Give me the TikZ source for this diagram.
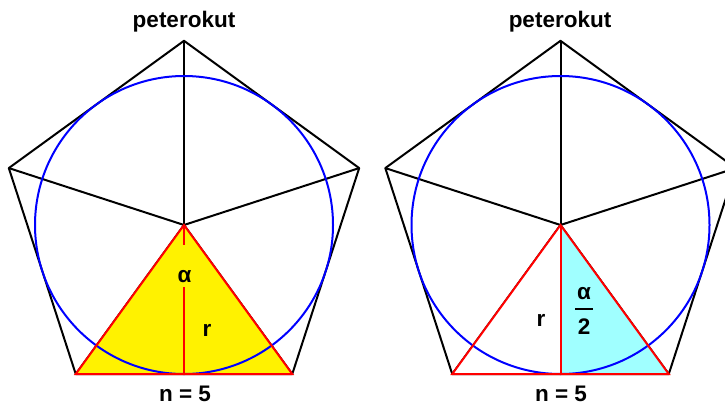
\documentclass[tikz,border=0pt]{standalone}
\usepackage{fontspec}
\setmainfont{Liberation Sans}
\usetikzlibrary{calc}
\definecolor{lcyan}{RGB}{160,255,255}
\begin{document}
\begin{tikzpicture}[x=1pt,y=-1pt,
  edge/.style={black,line width=2pt,line join=round},
  incircle/.style={blue,line width=2pt},
  tri/.style={red,line width=2pt,line join=miter},
  lbl/.style={font=\fontsize{22.5}{26}\selectfont\bfseries,inner sep=1pt}]
\useasboundingbox (0,0) rectangle (725,407);
\clip (0,0) rectangle (725,407);
% ---------- left pentagon ----------
\coordinate (C1) at (184,225);
\foreach \a [count=\i] in {90,162,234,306,18}
  \coordinate (L\i) at ($(C1)+({184.2*cos(\a)},{-184.2*sin(\a)})$);
\draw[edge] (L1)--(L2)--(L3)--(L4)--(L5)--cycle;
\foreach \i in {1,...,5} \draw[edge] (C1)--(L\i);
\coordinate (M1) at ($(L3)!0.5!(L4)$);
\fill[yellow] (C1)--(L3)--(L4)--cycle;
\draw[incircle] (C1) circle (149);
\draw[tri] (C1)--(L3)--(L4)--cycle;
\draw[tri] (C1)--(M1);
\node[lbl,fill=yellow,inner sep=0pt,text height=37pt,text depth=5pt,anchor=base] (a1) at (184.5,282) {α};
\node[lbl] (r1) at (207,330) {r};
\node[lbl] (t1) at (184,22) {peterokut};
\node[lbl] (n1) at (185,394) {n = 5};
% ---------- right pentagon ----------
\coordinate (C2) at (560.5,225);
\foreach \a [count=\i] in {90,162,234,306,18}
  \coordinate (R\i) at ($(C2)+({184.2*cos(\a)},{-184.2*sin(\a)})$);
\draw[edge] (R1)--(R2)--(R3)--(R4)--(R5)--cycle;
\foreach \i in {1,...,5} \draw[edge] (C2)--(R\i);
\coordinate (M2) at ($(R3)!0.5!(R4)$);
\fill[white] (C2)--(R3)--(M2)--cycle;
\fill[lcyan] (C2)--(M2)--(R4)--cycle;
\draw[incircle] (C2) circle (149);
\draw[tri] (C2)--(R3)--(R4)--cycle;
\draw[tri] (C2)--(M2);
\node[lbl] (r2) at (541,320) {r};
\node[lbl] (a2) at (584,294) {α};
\node[lbl] (d2) at (584,327) {2};
\coordinate (b1) at (575,308.5);
\coordinate (b2) at (593,308.5);
\draw[black,line width=2pt] (b1)--(b2);
\node[lbl] (t2) at (560,22) {peterokut};
\node[lbl] (n2) at (561,394) {n = 5};
\end{tikzpicture}
\end{document}
